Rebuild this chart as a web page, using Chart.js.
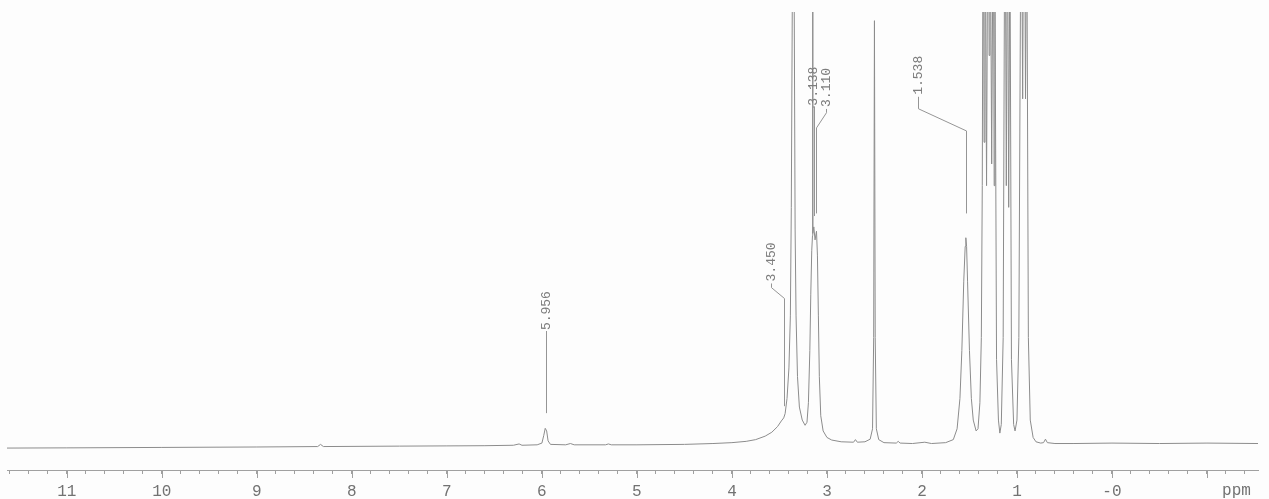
<!DOCTYPE html>
<html>
<head>
<meta charset="utf-8">
<title>1H NMR spectrum</title>
<script src="https://cdn.jsdelivr.net/npm/chart.js@4/dist/chart.umd.min.js"></script>
<style>
  html, body { margin: 0; padding: 0; background: #fdfdfd; }
  #nmrChart { display: block; }
</style>
</head>
<body>
<canvas id="nmrChart" width="1269" height="499"></canvas>
<script>
// chemical shift (ppm) and intensity, 100 = top of plot
const shiftPpm = [
  11.63, 11.0, 10.0, 9.0, 8.36, 8.33, 8.30, 7.5, 7.0, 6.6, 6.3, 6.24, 6.21, 6.05,
  6.0, 5.98, 5.965, 5.95, 5.935, 5.91, 5.75, 5.70, 5.66, 5.33, 5.30, 5.27, 5.0,
  4.5, 4.2, 4.0, 3.85, 3.75, 3.65, 3.58, 3.52, 3.48, 3.455, 3.44, 3.42, 3.40,
  3.385, 3.375, 3.365, 3.355, 3.344, 3.335, 3.325, 3.31, 3.29, 3.26, 3.23, 3.21,
  3.195, 3.18, 3.17, 3.16, 3.152, 3.150, 3.148, 3.138, 3.125, 3.110, 3.10, 3.09,
  3.08, 3.065, 3.04, 3.00, 2.95, 2.85, 2.72, 2.70, 2.68, 2.60, 2.545, 2.52, 2.508,
  2.500, 2.492, 2.48, 2.455, 2.40, 2.27, 2.25, 2.23, 2.10, 1.97, 1.90, 1.75, 1.67,
  1.63, 1.60, 1.58, 1.56, 1.545, 1.538, 1.53, 1.52, 1.50, 1.48, 1.46, 1.43, 1.41,
  1.39, 1.375, 1.365, 1.355, 1.346, 1.337, 1.320, 1.302, 1.293, 1.284, 1.266,
  1.249, 1.240, 1.232, 1.215, 1.195, 1.180, 1.165, 1.145, 1.126, 1.112, 1.100,
  1.087, 1.074, 1.058, 1.035, 1.020, 1.00, 0.98, 0.955, 0.94, 0.925, 0.91, 0.898,
  0.88, 0.86, 0.83, 0.80, 0.75, 0.72, 0.70, 0.68, 0.60, 0.40, 0.0, -0.5, -1.0, -1.537
];
const intensity = [
  -0.45, -0.4, -0.3, -0.2, -0.1, 0.4, -0.1, 0, 0.05, 0.1, 0.2, 0.5, 0.2, 0.3,
  0.7, 2.5, 4.1, 3.5, 1.2, 0.4, 0.3, 0.6, 0.3, 0.3, 0.5, 0.3, 0.3,
  0.4, 0.6, 0.8, 1.1, 1.5, 2.3, 3.2, 4.5, 5.8, 6.5, 7.5, 11, 18,
  30, 55, 100, 300, 100, 50, 30, 16, 9, 6, 4.8, 5.5,
  10, 22, 35, 45, 48.5, 130, 49, 50.5, 47.5, 49.5, 44, 30,
  16, 7, 3.5, 2, 1.4, 1.0, 0.9, 1.5, 0.9, 1.0, 1.6, 4, 25,
  98, 25, 4, 1.5, 0.8, 0.7, 1.1, 0.7, 0.6, 0.9, 0.6, 0.8, 1.5,
  4, 11, 22, 38, 46, 48, 46, 38, 22, 11, 6, 3.5, 4,
  10, 25, 60, 140, 70, 140, 60, 150, 90, 140, 65,
  130, 60, 110, 20, 6, 3, 5, 25, 140, 60, 130,
  55, 120, 20, 5, 3.5, 6, 25, 140, 80, 150, 80, 130,
  25, 6, 2, 1.0, 0.7, 0.8, 1.6, 0.8, 0.6, 0.6, 0.7, 0.6, 0.7, 0.6
];

// x axis
const majorTicks = [11, 10, 9, 8, 7, 6, 5, 4, 3, 2, 1, 0, -1];
const majorLabels = ['11', '10', '9', '8', '7', '6', '5', '4', '3', '2', '1', '-0', ''];
const minorStep = 0.2;
const unitLabel = 'ppm';
const unitLabelAt = -1.31;

// peak picking labels: text position (ppm) and leader levels (intensity units)
const peakLabels = ['5.956', '3.450', '3.138', '3.110', '1.538'];
const peakShifts = [5.956, 3.450, 3.138, 3.110, 1.538];
const labelShifts = [5.956, 3.589, 3.150, 3.012, 2.04];
const labelBase = [26.5, 37.7, 78.2, 77.9, 80.7];
const leaderKinkTop = [26.5, 36.5, 78.2, 76.8, 77.7];
const leaderKinkBottom = [26.5, 34.0, 78.2, 73.3, 72.6];
const leaderTip = [7.6, 9.2, 53.0, 53.6, 53.6];

const points = shiftPpm.map((x, i) => ({ x: x, y: intensity[i] }));

const peakLabelPlugin = {
  id: 'peakLabels',
  afterDatasetsDraw(chart) {
    const { ctx, scales: { x, y } } = chart;
    ctx.save();
    ctx.strokeStyle = '#959595';
    ctx.lineWidth = 1;
    ctx.fillStyle = '#7d7d7d';
    ctx.font = '13px "Liberation Mono", "DejaVu Sans Mono", monospace';
    peakLabels.forEach((text, i) => {
      const tx = Math.round(x.getPixelForValue(labelShifts[i])) + 0.5;
      const px = Math.round(x.getPixelForValue(peakShifts[i])) + 0.5;
      const yBase = y.getPixelForValue(labelBase[i]);
      ctx.beginPath();
      ctx.moveTo(tx, yBase + 1);
      ctx.lineTo(tx, y.getPixelForValue(leaderKinkTop[i]));
      ctx.lineTo(px, y.getPixelForValue(leaderKinkBottom[i]));
      ctx.lineTo(px, y.getPixelForValue(leaderTip[i]));
      ctx.stroke();
      ctx.save();
      ctx.translate(tx, yBase - 1);
      ctx.rotate(-Math.PI / 2);
      ctx.textAlign = 'left';
      ctx.textBaseline = 'middle';
      ctx.fillText(text, 0, 0);
      ctx.restore();
    });
    ctx.restore();
  },
  afterDraw(chart) {
    // longer marks on whole ppm values, plus the unit label
    const { ctx, chartArea, scales: { x } } = chart;
    ctx.save();
    ctx.strokeStyle = '#a0a0a0';
    ctx.lineWidth = 1;
    majorTicks.forEach((v) => {
      const px = Math.round(x.getPixelForValue(v)) + 0.5;
      ctx.beginPath();
      ctx.moveTo(px, chartArea.bottom);
      ctx.lineTo(px, chartArea.bottom + 8);
      ctx.stroke();
    });
    ctx.fillStyle = '#727272';
    ctx.font = '16px "Liberation Mono", "DejaVu Sans Mono", monospace';
    ctx.textAlign = 'center';
    ctx.textBaseline = 'middle';
    ctx.fillText(unitLabel, x.getPixelForValue(unitLabelAt), chartArea.bottom + 21);
    ctx.restore();
  }
};

const nmrChart = new Chart(
  document.getElementById('nmrChart').getContext('2d'),
  {
    type: 'line',
    data: {
      datasets: [{
        data: points,
        borderColor: '#8c8c8c',
        borderWidth: 1,
        pointRadius: 0,
        tension: 0,
        fill: false
      }]
    },
    options: {
      responsive: false,
      animation: false,
      devicePixelRatio: 1,
      layout: { padding: { left: 7, right: 11, top: 12, bottom: 0 } },
      plugins: {
        legend: { display: false },
        tooltip: { enabled: false }
      },
      scales: {
        x: {
          type: 'linear',
          reverse: true,
          min: -1.537,
          max: 11.63,
          afterBuildTicks: (scale) => {
            const ticks = [];
            for (let k = Math.ceil(scale.min / minorStep); k * minorStep <= scale.max; k++) {
              ticks.push({ value: Math.round(k * minorStep * 10) / 10 });
            }
            scale.ticks = ticks;
          },
          afterFit: (scale) => { scale.height = 29; },
          ticks: {
            autoSkip: false,
            maxRotation: 0,
            padding: 8,
            color: '#727272',
            font: { family: '"Liberation Mono", "DejaVu Sans Mono", monospace', size: 16 },
            callback: (value) => {
              const idx = majorTicks.findIndex((m) => Math.abs(m - value) < 1e-6);
              return idx >= 0 ? majorLabels[idx] : '';
            }
          },
          grid: {
            drawOnChartArea: false,
            drawTicks: true,
            tickLength: 4,
            color: '#a0a0a0'
          },
          border: { display: true, color: '#a0a0a0', width: 1 }
        },
        y: {
          display: false,
          min: -5.5,
          max: 100
        }
      }
    },
    plugins: [peakLabelPlugin]
  }
);
</script>
</body>
</html>
